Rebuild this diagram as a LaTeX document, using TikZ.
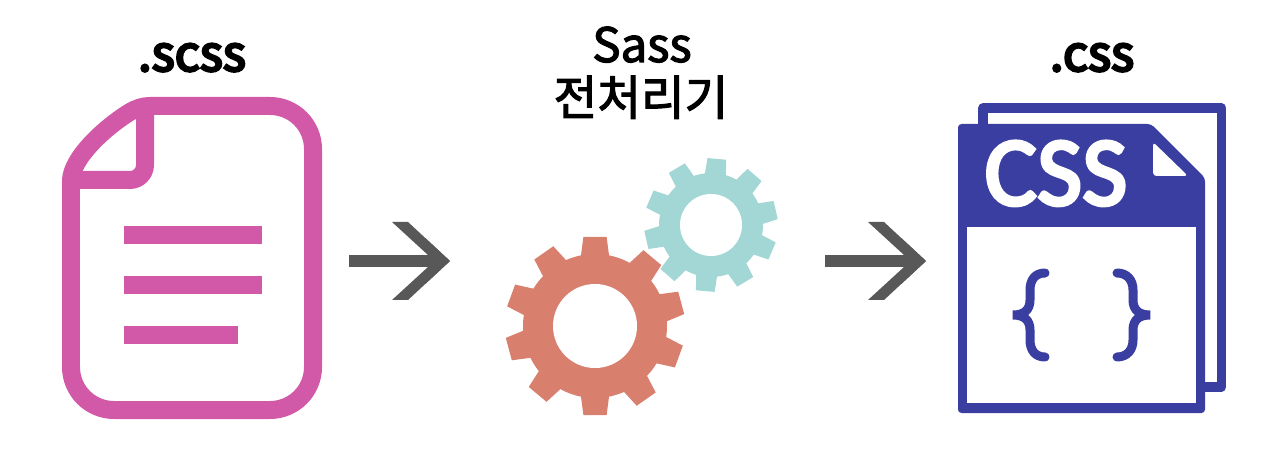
\documentclass[tikz,border=0pt]{standalone}
\usepackage{fontspec}
\usepackage{tikz}
\usetikzlibrary{arrows.meta}
\newfontfamily\krfont[FakeBold=2.5]{Noto Sans CJK KR}
\newfontfamily\krheavy[FakeBold=5]{Noto Sans CJK KR}
\newfontfamily\iconfont[FakeBold=3.5]{Carlito}
\definecolor{scsspink}{HTML}{D259A7}
\definecolor{cssnavy}{HTML}{3A3EA0}
\definecolor{gearred}{HTML}{D97F6E}
\definecolor{gearteal}{HTML}{A3D7D5}
\definecolor{flowgrey}{HTML}{585858}
\newcommand{\flowhead}[1]{\fill[flowgrey] (#1) -- ++(-42,-39) -- ++(-16,0) -- ++(36,33) -- ++(0,12) -- ++(-36,33) -- ++(16,0) -- cycle;}

\begin{document}
\begin{tikzpicture}[x=.02cm,y=-.02cm,
  label/.style={anchor=base,inner sep=0pt,font=\krfont\fontsize{27}{30}\selectfont},
  heavylabel/.style={label,font=\krheavy\fontsize{28}{30}\selectfont},
  flow/.style={draw=flowgrey,line width=.24cm,-{Straight Barb[length=.43cm,width=.8cm,line width=.16cm]}},
  sheet/.style={draw=#1,line width=.36cm,line join=round},
  brace/.style={draw=cssnavy,line width=.18cm,line cap=round}]
\useasboundingbox (0,0) rectangle (1280,469);
\node[heavylabel] (scsslabel) at (192,71) {.scss};
\node[label] (sasslabel) at (642,62) {Sass};
\node[label] (prelabel) at (641,115) {전처리기};
\node[heavylabel] (csslabel) at (1092,71) {.css};

\draw[sheet=scsspink] (71,180) .. controls (72,158) and (104,128) .. (130,112) .. controls (137,108) and (143,106) .. (150,106) -- (270,106) arc (-90:0:43) -- (313,367) arc (0:90:43) -- (114,410) arc (90:180:43) -- cycle;
\draw[sheet=scsspink] (145,106) -- (145,165) arc (0:90:15) -- (71,180);
\fill[scsspink] (124,226) rectangle (262,244);
\fill[scsspink] (124,276) rectangle (262,294);
\fill[scsspink] (124,326) rectangle (238,344);

\coordinate (scssout) at (349,261);
\coordinate (gearin) at (450,261);
\coordinate (gearout) at (825,261);
\coordinate (cssin) at (926,261);
\draw[flow] (scssout) -- (gearin);
\draw[flow] (gearout) -- (cssin);
\flowhead{gearin}
\flowhead{cssin}

\begin{scope}[shift={(711,225)}]
\fill[gearteal] (0,0) circle (52);
\foreach \a in {95,131,...,419}
  \fill[gearteal] (\a-12:51) -- (\a-8:67) -- (\a+8:67) -- (\a+12:51) -- cycle;
\fill[white] (0,0) circle (31);
\end{scope}
\begin{scope}[shift={(595,326)}]
\fill[gearred] (0,0) circle (72);
\foreach \a in {90,55,20,-15,-50,-90,-125,-160,165,130}
  \fill[gearred] (\a-11.5:71) -- (\a-7.4:90) -- (\a+7.4:90) -- (\a+11.5:71) -- cycle;
\fill[white] (0,0) circle (42);
\end{scope}

\draw[cssnavy,line width=.19cm,line join=round] (983,130) -- (983,108) -- (1221.5,108) -- (1221.5,387) -- (1200,387);
\fill[cssnavy,rounded corners=2pt] (958,124) -- (1151,124) -- (1205,178) -- (1205,413) -- (958,413) -- cycle;
\fill[white] (967,227) rectangle (1196,403);
\fill[white,rounded corners=2pt] (1153,142) -- (1153,176) -- (1188,176) -- cycle;
\node[inner sep=0pt,text=white,anchor=base,font=\iconfont\fontsize{56}{60}\selectfont] (cssmark) at (1056,205) {CSS};
\draw[brace] (1045,273) .. controls (1035,273) and (1030,280) .. (1030,290) -- (1030,300) .. controls (1030,310) and (1024,315) .. (1013,315) .. controls (1024,315) and (1030,320) .. (1030,330) -- (1030,340) .. controls (1030,350) and (1035,357) .. (1045,357);
\draw[brace] (1117,273) .. controls (1127,273) and (1133,280) .. (1133,290) -- (1133,300) .. controls (1133,310) and (1139,315) .. (1150,315) .. controls (1139,315) and (1133,320) .. (1133,330) -- (1133,340) .. controls (1133,350) and (1127,357) .. (1117,357);
\end{tikzpicture}
\end{document}
